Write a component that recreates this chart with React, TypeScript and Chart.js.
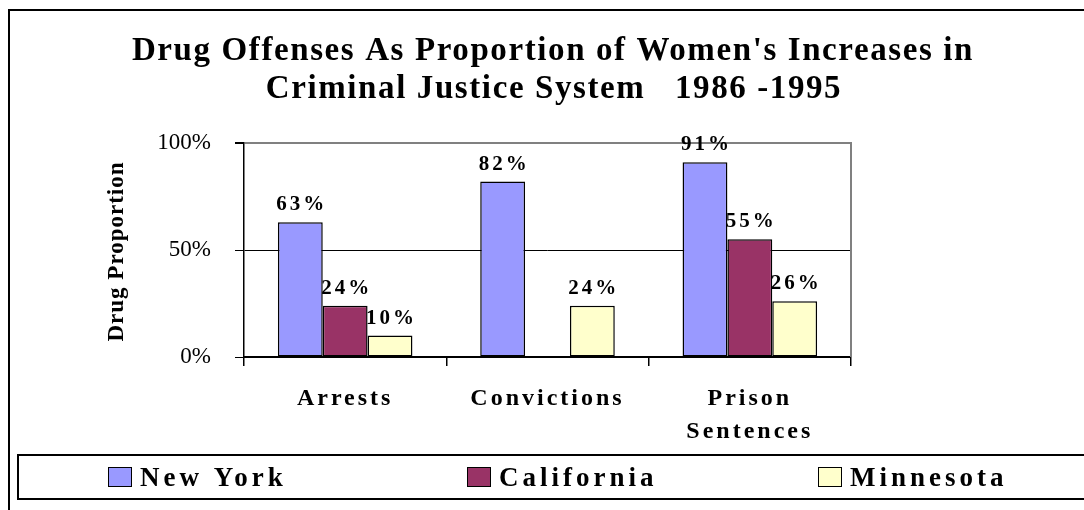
import React, { useEffect, useRef } from 'react';
import { Chart, registerables } from 'chart.js';

Chart.register(...registerables);

const TITLE_LINES = [
  "Drug Offenses As Proportion of Women's Increases in",
  'Criminal Justice System   1986 -1995',
];
const CATEGORIES: (string | string[])[] = ['Arrests', 'Convictions', ['Prison', 'Sentences']];
const SERIES_NAMES = ['New York', 'California', 'Minnesota'];
const NEW_YORK = [63, 82, 91];
const CALIFORNIA: (number | null)[] = [24, null, 55];
const MINNESOTA = [10, 24, 26];
const Y_TICKS = [0, 50, 100];
const Y_AXIS_TITLE = 'Drug Proportion';
const SERIES_COLORS = ['#9999FF', '#993366', '#FFFFCC'];

const SERIF = '"Liberation Serif", "Times New Roman", serif';

const decorPlugin = {
  id: 'decor',
  afterDatasetsDraw(chart: any) {
    const ctx = chart.ctx;
    ctx.save();
    ctx.font = `bold 21px ${SERIF}`;
    (ctx as any).letterSpacing = '3px';
    ctx.fillStyle = '#000';
    ctx.textAlign = 'center';
    ctx.textBaseline = 'alphabetic';
    chart.data.datasets.forEach((ds: any, di: number) => {
      const meta = chart.getDatasetMeta(di);
      meta.data.forEach((el: any, i: number) => {
        const v = ds.data[i];
        if (v === null || v === undefined) return;
        ctx.fillText(v + '%', el.x + 1.5, el.y - 12);
      });
    });
    ctx.restore();
    // x tick labels (z > 0) are drawn right after this hook
    (ctx as any).letterSpacing = '3px';
  },
  afterDraw(chart: any) {
    const ctx = chart.ctx;
    (ctx as any).letterSpacing = '0px';
    const ca = chart.chartArea;
    ctx.save();

    // right border of plot area
    ctx.strokeStyle = '#808080';
    ctx.lineWidth = 2;
    ctx.beginPath();
    ctx.moveTo(ca.right, ca.top - 1);
    ctx.lineTo(ca.right, ca.bottom);
    ctx.stroke();

    // outer frame (left + top)
    ctx.strokeStyle = '#000';
    ctx.lineWidth = 2;
    ctx.beginPath();
    ctx.moveTo(9, chart.height + 5);
    ctx.lineTo(9, 10);
    ctx.lineTo(chart.width + 5, 10);
    ctx.stroke();

    // title
    ctx.fillStyle = '#000';
    ctx.font = `bold 33px ${SERIF}`;
    (ctx as any).letterSpacing = '1.6px';
    ctx.textAlign = 'center';
    ctx.textBaseline = 'alphabetic';
    ctx.fillText(TITLE_LINES[0], 552 + 1, 60);
    ctx.fillText(TITLE_LINES[1], 553 + 1, 98);

    // y axis title
    ctx.save();
    ctx.translate(123, 252);
    ctx.rotate(-Math.PI / 2);
    ctx.font = `bold 23px ${SERIF}`;
    (ctx as any).letterSpacing = '1px';
    ctx.fillText(Y_AXIS_TITLE, 0.5, 0);
    ctx.restore();

    // legend box
    ctx.strokeStyle = '#000';
    ctx.lineWidth = 2;
    ctx.strokeRect(18, 455, chart.width + 20, 44);

    const itemX = [108, 467, 818];
    ctx.font = `bold 27px ${SERIF}`;
    (ctx as any).letterSpacing = '4px';
    ctx.textAlign = 'left';
    chart.data.datasets.forEach((ds: any, i: number) => {
      const x = itemX[i];
      ctx.fillStyle = ds.backgroundColor;
      ctx.fillRect(x, 467, 23, 19);
      ctx.strokeStyle = '#000';
      ctx.lineWidth = 1;
      ctx.strokeRect(x + 0.5, 467.5, 23, 19);
      ctx.fillStyle = '#000';
      ctx.fillText(ds.label, x + 32, 486);
    });

    ctx.restore();
    (ctx as any).letterSpacing = '0px';
  },
};

export default function App() {
  const ref = useRef<HTMLCanvasElement>(null);
  useEffect(() => {
    const seriesValues = [NEW_YORK, CALIFORNIA, MINNESOTA];
    const chart = new Chart(ref.current as HTMLCanvasElement, {
      type: 'bar',
      data: {
        labels: CATEGORIES as any,
        datasets: SERIES_NAMES.map((name, i) => ({
          label: name,
          data: seriesValues[i] as any,
          backgroundColor: SERIES_COLORS[i],
          borderColor: '#000',
          borderWidth: 1.5,
          borderSkipped: false,
          categoryPercentage: 0.665,
          barPercentage: 1,
        })),
      },
      options: {
        responsive: false,
        animation: false,
        devicePixelRatio: 1,
        layout: { padding: { left: 0, top: 143, right: 233, bottom: 0 } },
        plugins: {
          legend: { display: false },
          title: { display: false },
          tooltip: { enabled: false },
        },
        scales: {
          x: {
            type: 'category',
            offset: true,
            grid: {
              display: true,
              drawOnChartArea: false,
              drawTicks: true,
              tickLength: 9,
              color: '#000',
              lineWidth: 1.5,
              offset: true,
            },
            border: { display: true, color: '#000', width: 2 },
            ticks: {
              z: 1,
              color: '#000',
              font: { family: SERIF, size: 24, weight: 'bold', lineHeight: 1.375 },
              padding: 16,
              maxRotation: 0,
              autoSkip: false,
            },
            afterFit(s: any) {
              s.height = 153;
            },
          },
          y: {
            min: 0,
            max: 100,
            afterBuildTicks(s: any) {
              s.ticks = Y_TICKS.map((v) => ({ value: v }));
            },
            grid: {
              color: (c: any) => (c.tick && c.tick.value === 100 ? '#808080' : '#000'),
              lineWidth: (c: any) => (c.tick && c.tick.value === 100 ? 2 : 1),
              tickColor: '#000',
              tickLength: 9,
              drawTicks: true,
            },
            border: { display: true, color: '#000', width: 1.5 },
            ticks: {
              color: '#000',
              font: { family: SERIF, size: 23 },
              padding: 24,
              callback: (v: any) => v + '%',
            },
            afterFit(s: any) {
              s.width = 244;
            },
          },
        },
      } as any,
      plugins: [decorPlugin],
    });
    return () => chart.destroy();
  }, []);
  return (
    <div style={{ position: 'absolute', left: 0, top: 0, width: 1084, height: 510, background: '#fff' }}>
      <canvas ref={ref} width={1084} height={510} style={{ display: 'block' }} />
    </div>
  );
}
